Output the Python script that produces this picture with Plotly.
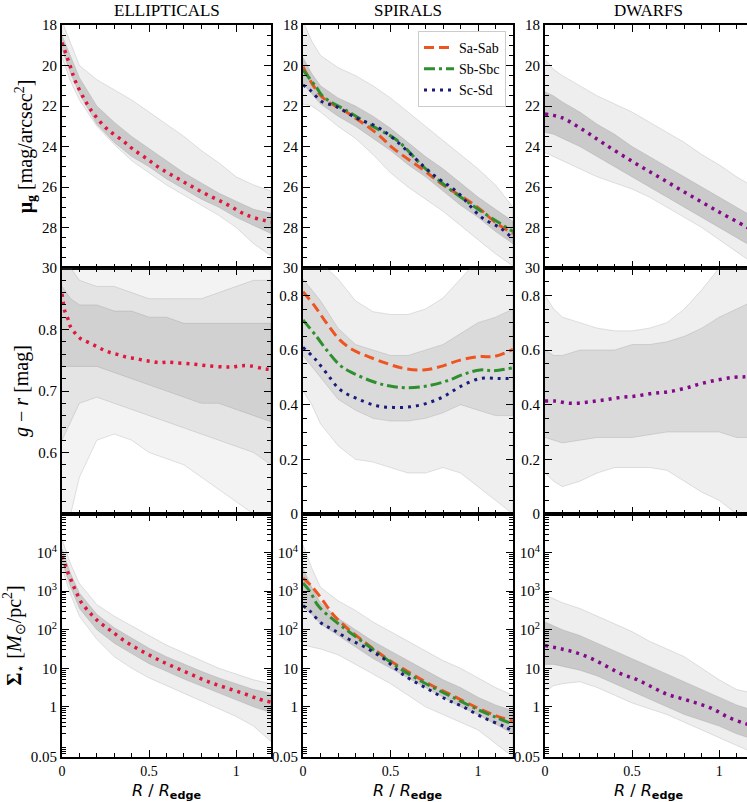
import plotly.graph_objects as go
from plotly.subplots import make_subplots

# ---------------- data ----------------
# common radial nodes for the grey envelopes of individual profiles
NODES = [0, 0.05, 0.1, 0.2, 0.3, 0.4, 0.5, 0.6, 0.7, 0.8, 0.9, 1.0, 1.1, 1.2]

# ---- row 1: surface brightness mu_g ----
mu_ell_outer_hi = [17.8, 18.9, 20.0, 20.7, 21.2, 21.7, 22.3, 22.9, 23.5, 24.2, 24.8, 25.5, 25.9, 26.2]
mu_ell_outer_lo = [19.6, 20.8, 21.7, 23.0, 23.9, 24.7, 25.3, 25.9, 26.4, 26.9, 27.4, 28.0, 28.8, 29.4]
mu_ell_core_hi = [18.5, 19.6, 20.6, 22.0, 22.8, 23.5, 24.1, 24.7, 25.3, 25.8, 26.3, 26.7, 27.1, 27.3]
mu_ell_core_lo = [19.2, 20.4, 21.4, 22.9, 23.8, 24.5, 25.0, 25.6, 26.1, 26.6, 27.0, 27.5, 27.9, 28.3]

mu_spi_outer_hi = [17.8, 18.8, 19.5, 20.1, 20.5, 21.0, 21.6, 22.3, 23.0, 23.7, 24.4, 25.1, 25.9, 27.0]
mu_spi_outer_lo = [21.9, 22.0, 22.3, 23.0, 23.6, 24.4, 25.3, 26.0, 26.6, 27.2, 27.9, 28.6, 29.3, 29.9]
mu_spi_core_hi = [19.6, 20.4, 21.0, 21.6, 22.0, 22.5, 23.1, 23.8, 24.5, 25.1, 25.8, 26.5, 27.1, 27.7]
mu_spi_core_lo = [20.9, 21.4, 21.9, 22.5, 23.0, 23.6, 24.2, 24.9, 25.5, 26.2, 26.9, 27.5, 28.2, 28.8]

mu_dwf_outer_hi = [19.7, 20.2, 20.5, 21.0, 21.5, 21.9, 22.3, 22.8, 23.3, 23.8, 24.4, 24.9, 25.5, 26.0]
mu_dwf_outer_lo = [24.3, 24.5, 24.7, 25.1, 25.5, 25.8, 26.1, 26.5, 27.0, 27.5, 28.0, 28.6, 29.2, 29.8]
mu_dwf_core_hi = [21.3, 21.5, 21.8, 22.3, 22.9, 23.4, 24.0, 24.5, 25.0, 25.5, 26.0, 26.5, 27.0, 27.5]
mu_dwf_core_lo = [23.3, 23.4, 23.6, 24.0, 24.5, 25.0, 25.5, 26.0, 26.5, 27.0, 27.5, 28.0, 28.5, 29.0]

mu_ell_x = [0, 0.046, 0.078, 0.142, 0.195, 0.26, 0.35, 0.406, 0.486, 0.568, 0.683, 0.811, 0.943, 1.064, 1.2]
mu_ell = [18.87, 20.0, 20.8, 21.87, 22.53, 23.14, 23.72, 24.12, 24.6, 25.1, 25.67, 26.28, 26.84, 27.4, 27.73]

mu_sa_x = [0, 0.107, 0.259, 0.421, 0.516, 0.688, 0.802, 0.993, 1.107, 1.2]
mu_sa = [20.06, 21.54, 22.36, 23.35, 24.09, 25.16, 25.9, 26.97, 27.8, 28.3]
mu_sb_x = [0, 0.078, 0.116, 0.259, 0.402, 0.535, 0.688, 0.82, 0.993, 1.2]
mu_sb = [20.22, 21.1, 21.54, 22.28, 23.02, 23.68, 25.0, 25.98, 27.05, 28.2]
mu_sc_x = [0, 0.044, 0.107, 0.19, 0.306, 0.421, 0.516, 0.63, 0.745, 0.878, 1.021, 1.13, 1.2]
mu_sc = [20.96, 21.24, 21.78, 22.03, 22.6, 23.02, 23.6, 24.5, 25.4, 26.23, 27.5, 28.04, 28.55]

mu_dwf_x = [0, 0.096, 0.22, 0.335, 0.498, 0.66, 0.823, 0.986, 1.154, 1.2]
mu_dwf = [22.4, 22.58, 23.19, 23.84, 24.72, 25.54, 26.36, 27.17, 27.96, 28.2]

# ---- row 2: colour g - r ----
gr_ell_outer_hi = [0.95, 0.95, 0.95, 0.95, 0.95, 0.92, 0.91, 0.93, 0.95, 0.95, 0.95, 0.95, 0.95, 0.95]
gr_ell_outer_lo = [0.48, 0.5, 0.56, 0.62, 0.63, 0.62, 0.6, 0.59, 0.58, 0.56, 0.54, 0.52, 0.5, 0.48]
gr_ell_mid_hi = [0.92, 0.9, 0.88, 0.87, 0.87, 0.86, 0.85, 0.85, 0.85, 0.85, 0.86, 0.87, 0.88, 0.88]
gr_ell_mid_lo = [0.62, 0.65, 0.68, 0.69, 0.68, 0.67, 0.66, 0.65, 0.64, 0.63, 0.62, 0.61, 0.6, 0.58]
gr_ell_core_hi = [0.87, 0.85, 0.84, 0.84, 0.83, 0.83, 0.82, 0.82, 0.81, 0.81, 0.81, 0.81, 0.81, 0.81]
gr_ell_core_lo = [0.74, 0.74, 0.74, 0.74, 0.73, 0.72, 0.71, 0.7, 0.69, 0.68, 0.68, 0.67, 0.66, 0.65]

gr_spi_outer_hi = [0.95, 0.95, 0.92, 0.86, 0.78, 0.74, 0.73, 0.73, 0.75, 0.79, 0.86, 0.93, 0.95, 0.95]
gr_spi_outer_lo = [0.45, 0.4, 0.33, 0.25, 0.2, 0.19, 0.17, 0.15, 0.15, 0.17, 0.15, 0.1, 0.05, 0.0]
gr_spi_core_hi = [0.86, 0.82, 0.78, 0.68, 0.62, 0.6, 0.58, 0.58, 0.6, 0.62, 0.66, 0.7, 0.72, 0.75]
gr_spi_core_lo = [0.58, 0.54, 0.5, 0.42, 0.38, 0.35, 0.34, 0.34, 0.35, 0.37, 0.4, 0.38, 0.36, 0.36]

gr_dwf_outer_hi = [0.8, 0.75, 0.72, 0.7, 0.68, 0.67, 0.67, 0.68, 0.7, 0.75, 0.82, 0.9, 0.95, 0.95]
gr_dwf_outer_lo = [0.15, 0.12, 0.1, 0.12, 0.15, 0.17, 0.17, 0.17, 0.16, 0.12, 0.08, 0.05, 0.0, 0.0]
gr_dwf_core_hi = [0.6, 0.58, 0.58, 0.6, 0.6, 0.6, 0.62, 0.62, 0.63, 0.65, 0.68, 0.72, 0.75, 0.78]
gr_dwf_core_lo = [0.28, 0.27, 0.26, 0.27, 0.28, 0.28, 0.28, 0.29, 0.3, 0.3, 0.3, 0.3, 0.28, 0.28]

gr_ell_x = [0, 0.007, 0.015, 0.033, 0.048, 0.075, 0.107, 0.151, 0.195, 0.237, 0.281, 0.325, 0.371,
            0.419, 0.467, 0.514, 0.56, 0.6, 0.65, 0.743, 0.839, 0.935, 0.977, 1.025, 1.075, 1.165, 1.2]
gr_ell = [0.858, 0.844, 0.831, 0.818, 0.805, 0.794, 0.785, 0.779, 0.773, 0.767, 0.762, 0.759, 0.755,
          0.753, 0.75, 0.748, 0.746, 0.747, 0.746, 0.744, 0.741, 0.739, 0.739, 0.741, 0.741, 0.736, 0.735]

gr_sa_x = [0, 0.069, 0.135, 0.21, 0.287, 0.373, 0.478, 0.573, 0.688, 0.784, 0.898, 1.013, 1.089, 1.2]
gr_sa = [0.813, 0.759, 0.698, 0.637, 0.6, 0.576, 0.551, 0.533, 0.527, 0.539, 0.563, 0.576, 0.576, 0.602]
gr_sb_x = [0, 0.078, 0.135, 0.21, 0.287, 0.402, 0.497, 0.593, 0.707, 0.822, 0.917, 1.013, 1.089, 1.2]
gr_sb = [0.71, 0.649, 0.6, 0.545, 0.515, 0.484, 0.468, 0.462, 0.468, 0.487, 0.511, 0.527, 0.524, 0.535]
gr_sc_x = [0, 0.069, 0.135, 0.21, 0.306, 0.421, 0.516, 0.612, 0.707, 0.802, 0.898, 1.013, 1.108, 1.2]
gr_sc = [0.61, 0.567, 0.515, 0.456, 0.423, 0.396, 0.39, 0.392, 0.405, 0.429, 0.466, 0.496, 0.496, 0.495]

gr_dwf_x = [0, 0.057, 0.144, 0.239, 0.335, 0.43, 0.526, 0.622, 0.708, 0.804, 0.89, 0.986, 1.081, 1.148, 1.2]
gr_dwf = [0.413, 0.413, 0.405, 0.409, 0.417, 0.426, 0.432, 0.442, 0.447, 0.46, 0.476, 0.49, 0.5, 0.502, 0.505]

# ---- row 3: stellar mass surface density, log10(Sigma) ----
ls_ell_outer_hi = [4.35, 3.7, 3.2, 2.65, 2.35, 2.1, 1.85, 1.6, 1.4, 1.2, 1.0, 0.85, 0.7, 0.6]
ls_ell_outer_lo = [3.6, 2.9, 2.35, 1.75, 1.3, 1.0, 0.75, 0.55, 0.35, 0.15, -0.05, -0.25, -0.5, -0.9]
ls_ell_core_hi = [4.1, 3.45, 2.95, 2.4, 2.05, 1.78, 1.52, 1.3, 1.1, 0.92, 0.75, 0.6, 0.45, 0.35]
ls_ell_core_lo = [3.75, 3.1, 2.55, 2.0, 1.65, 1.38, 1.12, 0.92, 0.72, 0.52, 0.34, 0.18, 0.0, -0.15]

ls_spi_outer_hi = [4.2, 3.6, 3.1, 2.75, 2.5, 2.2, 1.95, 1.7, 1.45, 1.2, 1.0, 0.75, 0.5, 0.3]
ls_spi_outer_lo = [1.6, 1.55, 1.5, 1.35, 1.1, 0.85, 0.6, 0.3, 0.0, -0.2, -0.4, -0.6, -0.95, -1.3]
ls_spi_core_hi = [3.6, 3.1, 2.7, 2.3, 2.0, 1.7, 1.45, 1.2, 0.95, 0.7, 0.5, 0.25, 0.05, -0.1]
ls_spi_core_lo = [2.6, 2.4, 2.15, 1.85, 1.55, 1.25, 1.0, 0.75, 0.5, 0.25, 0.0, -0.2, -0.45, -0.7]

ls_dwf_outer_hi = [2.9, 2.8, 2.7, 2.55, 2.35, 2.15, 1.95, 1.7, 1.5, 1.3, 1.0, 0.7, 0.45, 0.35]
ls_dwf_outer_lo = [0.4, 0.55, 0.6, 0.65, 0.5, 0.3, 0.1, -0.05, -0.2, -0.4, -0.6, -0.8, -1.0, -1.2]
ls_dwf_core_hi = [2.2, 2.1, 2.0, 1.85, 1.65, 1.45, 1.25, 1.05, 0.85, 0.65, 0.45, 0.25, 0.05, -0.1]
ls_dwf_core_lo = [1.1, 1.1, 1.05, 0.95, 0.8, 0.6, 0.4, 0.2, 0.0, -0.2, -0.35, -0.5, -0.7, -0.85]

ls_ell_x = [0, 0.019, 0.033, 0.052, 0.069, 0.088, 0.109, 0.138, 0.17, 0.203, 0.241, 0.285, 0.352,
            0.432, 0.519, 0.6, 0.686, 0.772, 0.858, 0.944, 1.04, 1.126, 1.2]
ls_ell = [3.9, 3.68, 3.49, 3.29, 3.1, 2.91, 2.72, 2.55, 2.39, 2.24, 2.1, 1.96, 1.73,
          1.51, 1.3, 1.12, 0.95, 0.78, 0.62, 0.49, 0.35, 0.21, 0.12]

ls_sa_x = [0, 0.04, 0.097, 0.173, 0.25, 0.345, 0.46, 0.593, 0.726, 0.86, 0.993, 1.107, 1.2]
ls_sa = [3.34, 3.17, 2.86, 2.39, 2.05, 1.7, 1.31, 0.93, 0.58, 0.28, -0.02, -0.24, -0.37]
ls_sb_x = [0, 0.04, 0.087, 0.173, 0.259, 0.364, 0.478, 0.593, 0.726, 0.86, 0.993, 1.107, 1.2]
ls_sb = [3.21, 2.99, 2.62, 2.26, 1.96, 1.61, 1.23, 0.88, 0.54, 0.24, -0.06, -0.28, -0.45]
ls_sc_x = [0, 0.04, 0.107, 0.173, 0.259, 0.345, 0.46, 0.583, 0.707, 0.821, 0.916, 1.03, 1.145, 1.2]
ls_sc = [2.62, 2.48, 2.16, 2.0, 1.76, 1.57, 1.25, 0.8, 0.48, 0.19, 0.0, -0.28, -0.5, -0.63]

ls_dwf_x = [0, 0.096, 0.182, 0.268, 0.354, 0.44, 0.526, 0.612, 0.698, 0.788, 0.876, 0.966, 1.056, 1.148, 1.2]
ls_dwf = [1.59, 1.5, 1.4, 1.25, 1.05, 0.85, 0.71, 0.52, 0.33, 0.21, 0.09, -0.06, -0.28, -0.43, -0.5]

COL_TITLES = ["ELLIPTICALS", "SPIRALS", "DWARFS"]
Y_TITLES = ["<b>μ</b><sub><b>g</b></sub> [mag/arcsec<sup>2</sup>]",
            "<i>g</i> − <i>r</i> [mag]",
            "<b>Σ</b><sub>⋆</sub> [<i>M</i><sub>⊙</sub>/pc<sup>2</sup>]"]
X_TITLE = "<i>R</i> / <i>R</i><sub><b>edge</b></sub>"

MU_TICKS = [18, 20, 22, 24, 26, 28, 30]
GR_ELL_TICKS = [0.6, 0.7, 0.8]
GR_TICKS = [0, 0.2, 0.4, 0.6, 0.8]
GR_TICK_TEXT = ["0", "0.2", "0.4", "0.6", "0.8"]
SIG_TICKS = [0.05, 1, 10, 100, 1000, 10000]
SIG_TICK_TEXT = ["0.05", "1", "10", "10<sup>2</sup>", "10<sup>3</sup>", "10<sup>4</sup>"]
X_TICKS = [0, 0.5, 1]
X_TICK_TEXT = ["0", "0.5", "1"]

# ---------------- styles ----------------
SERIF = "Liberation Serif"
SANS = "DejaVu Sans"
RED = "#e0163c"
ORANGE = "#ee5420"
GREEN = "#2f8f2f"
NAVY = "#1b1b7d"
PURPLE = "#84088a"

fig = make_subplots(rows=3, cols=3)

W, H = 747, 802
ML, MR, MT, MB = 62, 0, 25, 45
PW, PH = W - ML - MR, H - MT - MB
col_px = [(62, 271), (303, 513), (545, 747)]
row_px = [(25, 268), (268, 514), (514, 757)]


def dom_x(a, b):
    return [(a - ML) / PW, (b - ML) / PW]


def dom_y(a, b):
    return [(H - MB - b) / PH, (H - MB - a) / PH]


def tolin(vals):
    return [10 ** v for v in vals]


def band(r, c, hi, lo, alpha, log=False):
    xs = NODES + NODES[::-1]
    ys = hi + lo[::-1]
    if log:
        ys = tolin(ys)
    fig.add_trace(go.Scatter(x=xs, y=ys, fill="toself", mode="lines",
                             fillcolor=f"rgba(120,120,120,{alpha})",
                             line=dict(width=0.7, color="rgba(120,120,120,0.3)"),
                             hoverinfo="skip", showlegend=False), row=r, col=c)


def curve(r, c, xs, ys, color, dash, width, name=None, legend=False, log=False):
    if log:
        ys = tolin(ys)
    fig.add_trace(go.Scatter(x=xs, y=ys, mode="lines", name=name,
                             line=dict(color=color, dash=dash, width=width, shape="spline"),
                             showlegend=legend), row=r, col=c)


DOT = "3px,5px"
DASH = "10px,5px"
DASHDOT = "11px,4px,3px,4px"
A_OUT, A_CORE = 0.13, 0.30

# row 1
for c, (oh, ol, ch, cl) in enumerate([
        (mu_ell_outer_hi, mu_ell_outer_lo, mu_ell_core_hi, mu_ell_core_lo),
        (mu_spi_outer_hi, mu_spi_outer_lo, mu_spi_core_hi, mu_spi_core_lo),
        (mu_dwf_outer_hi, mu_dwf_outer_lo, mu_dwf_core_hi, mu_dwf_core_lo)], start=1):
    band(1, c, oh, ol, A_OUT)
    band(1, c, ch, cl, A_CORE)
curve(1, 1, mu_ell_x, mu_ell, RED, DOT, 3.5)
curve(1, 2, mu_sa_x, mu_sa, ORANGE, DASH, 3, "Sa-Sab", True)
curve(1, 2, mu_sb_x, mu_sb, GREEN, DASHDOT, 3, "Sb-Sbc", True)
curve(1, 2, mu_sc_x, mu_sc, NAVY, DOT, 3, "Sc-Sd", True)
curve(1, 3, mu_dwf_x, mu_dwf, PURPLE, DOT, 3.5)

# row 2
band(2, 1, gr_ell_outer_hi, gr_ell_outer_lo, 0.09)
band(2, 1, gr_ell_mid_hi, gr_ell_mid_lo, 0.12)
band(2, 1, gr_ell_core_hi, gr_ell_core_lo, 0.18)
band(2, 2, gr_spi_outer_hi, gr_spi_outer_lo, 0.12)
band(2, 2, gr_spi_core_hi, gr_spi_core_lo, 0.18)
band(2, 3, gr_dwf_outer_hi, gr_dwf_outer_lo, 0.12)
band(2, 3, gr_dwf_core_hi, gr_dwf_core_lo, 0.18)
curve(2, 1, gr_ell_x, gr_ell, RED, DOT, 3.5)
curve(2, 2, gr_sa_x, gr_sa, ORANGE, DASH, 3)
curve(2, 2, gr_sb_x, gr_sb, GREEN, DASHDOT, 3)
curve(2, 2, gr_sc_x, gr_sc, NAVY, DOT, 3)
curve(2, 3, gr_dwf_x, gr_dwf, PURPLE, DOT, 3.5)

# row 3
for c, (oh, ol, ch, cl) in enumerate([
        (ls_ell_outer_hi, ls_ell_outer_lo, ls_ell_core_hi, ls_ell_core_lo),
        (ls_spi_outer_hi, ls_spi_outer_lo, ls_spi_core_hi, ls_spi_core_lo),
        (ls_dwf_outer_hi, ls_dwf_outer_lo, ls_dwf_core_hi, ls_dwf_core_lo)], start=1):
    band(3, c, oh, ol, A_OUT, log=True)
    band(3, c, ch, cl, A_CORE, log=True)
curve(3, 1, ls_ell_x, ls_ell, RED, DOT, 3.5, log=True)
curve(3, 2, ls_sa_x, ls_sa, ORANGE, DASH, 3, log=True)
curve(3, 2, ls_sb_x, ls_sb, GREEN, DASHDOT, 3, log=True)
curve(3, 2, ls_sc_x, ls_sc, NAVY, DOT, 3, log=True)
curve(3, 3, ls_dwf_x, ls_dwf, PURPLE, DOT, 3.5, log=True)

# ---------------- axes ----------------
tickfont = dict(family=SERIF, size=15, color="black")
xtickfont = dict(family=SERIF, size=14, color="black")
sig_minor = []
for d in [0.01, 0.1, 1, 10, 100, 1000, 10000]:
    for m in range(2, 10):
        v = m * d
        if 0.05 <= v <= 100000:
            sig_minor.append(v)

for r in range(1, 4):
    for c in range(1, 4):
        idx = (r - 1) * 3 + c
        xa = "xaxis" if idx == 1 else f"xaxis{idx}"
        ya = "yaxis" if idx == 1 else f"yaxis{idx}"
        common = dict(showgrid=False, zeroline=False, ticks="inside", ticklen=7, tickwidth=1.3,
                      tickcolor="black", showline=True, linewidth=1.8, linecolor="black")
        xr = [0, 1.2] if c < 3 else [0, 1.2 * (747 - 545) / 209]
        fig.layout[xa].update(domain=dom_x(*col_px[c - 1]), range=xr, mirror="allticks",
                              tickmode="array", tickvals=X_TICKS, ticktext=X_TICK_TEXT,
                              showticklabels=(r == 3), ticklabelstandoff=0, tickfont=xtickfont,
                              minor=dict(ticks="inside", ticklen=4, tickwidth=1, tickcolor="black",
                                         dtick=0.1, tick0=0),
                              **common)
        ymirror = "allticks" if c < 3 else False
        yd = dict(domain=dom_y(*row_px[r - 1]), mirror=ymirror, tickfont=tickfont, **common)
        if r == 1:
            yd.update(range=[30, 18], tickmode="array", tickvals=MU_TICKS,
                      minor=dict(ticks="inside", ticklen=4, tickwidth=1, tickcolor="black",
                                 dtick=0.5, tick0=18))
        elif r == 2 and c == 1:
            yd.update(range=[0.5, 0.9], tickmode="array", tickvals=GR_ELL_TICKS,
                      ticktext=["0.6", "0.7", "0.8"],
                      minor=dict(ticks="inside", ticklen=4, tickwidth=1, tickcolor="black",
                                 dtick=0.02, tick0=0.5))
        elif r == 2:
            yd.update(range=[0, 0.9], tickmode="array", tickvals=GR_TICKS, ticktext=GR_TICK_TEXT,
                      minor=dict(ticks="inside", ticklen=4, tickwidth=1, tickcolor="black",
                                 dtick=0.05, tick0=0))
        else:
            yd.update(type="log", range=[-1.301, 5], tickmode="array", tickvals=SIG_TICKS,
                      ticktext=SIG_TICK_TEXT,
                      minor=dict(ticks="inside", ticklen=4, tickwidth=1, tickcolor="black",
                                 tickmode="array", tickvals=sig_minor))
        if c == 1:
            yd.update(title=dict(text=Y_TITLES[r - 1], font=dict(family=SERIF, size=20, color="black"),
                                 standoff=4))
        fig.layout[ya].update(**yd)

# column titles and x-axis titles
for c in range(3):
    cx = ((62 + 271) / 2 + (303 - 62) * c - ML) / PW
    fig.add_annotation(x=cx, y=1, xref="paper", yref="paper", xanchor="center", yanchor="bottom",
                       yshift=3, text=COL_TITLES[c], showarrow=False,
                       font=dict(family=SERIF, size=17, color="black"))
    fig.add_annotation(x=cx, y=0, xref="paper", yref="paper", xanchor="center", yanchor="top",
                       yshift=-22, text=X_TITLE, showarrow=False,
                       font=dict(family=SANS, size=16, color="black"))

fig.update_layout(
    width=W, height=H, margin=dict(l=ML, r=MR, t=MT, b=MB),
    plot_bgcolor="white", paper_bgcolor="white",
    legend=dict(x=(506 - ML) / PW, xanchor="right", y=(H - MB - 31) / PH, yanchor="top",
                bgcolor="white", bordercolor="#cccccc", borderwidth=1,
                font=dict(family=SERIF, size=14, color="black"),
                tracegroupgap=0, itemwidth=30),
)

fig.write_html("out.html")
